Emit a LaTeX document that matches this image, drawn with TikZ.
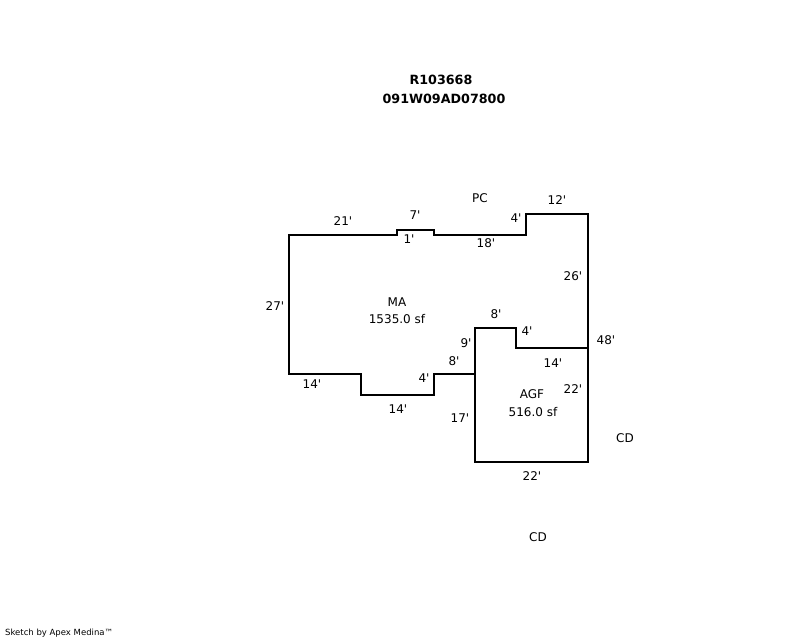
\documentclass[tikz,border=0pt]{standalone}
\usepackage{fontspec}
\defaultfontfeatures[\rmfamily]{}
\setmainfont{DejaVu Sans}
\newcommand{\ft}{\symbol{39}}
\tikzset{
  wall/.style={draw=black,line width=2.5pt,line join=miter},
  lbl/.style={inner sep=0pt,font=\fontsize{12}{14}\selectfont,text=black},
  ttl/.style={inner sep=0pt,font=\fontsize{12.7}{14}\selectfont\bfseries,text=black},
  credit/.style={inner sep=0pt,anchor=west,font=\fontsize{8.5}{10}\selectfont,text=black}
}
\begin{document}
\begin{tikzpicture}[x=1pt,y=-1pt]
\useasboundingbox[fill=white] (0,0) rectangle (800,640);
\draw[wall] (289,235) -- (397,235) -- (397,230) -- (434,230) -- (434,235) -- (526,235) -- (526,214) -- (588,214) -- (588,462) -- (475,462) -- (475,374) -- (434,374) -- (434,395) -- (361,395) -- (361,374) -- (289,374) -- cycle;
\draw[wall] (475,374) -- (475,328) -- (516,328) -- (516,348) -- (588,348);
\node[ttl] (t1) at (441,80) {R103668};
\node[ttl] (t2) at (444,99) {091W09AD07800};
\node[lbl] (a1) at (343,221) {21\ft};
\node[lbl] (a2) at (415,215) {7\ft};
\node[lbl] (a3) at (409,239) {1\ft};
\node[lbl] (a4) at (486,243) {18\ft};
\node[lbl] (a5) at (516,218) {4\ft};
\node[lbl] (a6) at (557,200) {12\ft};
\node[lbl] (pc) at (480,198) {PC};
\node[lbl] (a7) at (573,276) {26\ft};
\node[lbl] (a8) at (275,306) {27\ft};
\node[lbl] (ma) at (397,302) {MA};
\node[lbl] (mas) at (397,319) {1535.0 sf};
\node[lbl] (a9) at (496,314) {8\ft};
\node[lbl] (a10) at (527,331) {4\ft};
\node[lbl] (a11) at (466,343) {9\ft};
\node[lbl] (a12) at (606,340) {48\ft};
\node[lbl] (a13) at (454,361) {8\ft};
\node[lbl] (a14) at (553,363) {14\ft};
\node[lbl] (a15) at (424,378) {4\ft};
\node[lbl] (a16) at (312,384) {14\ft};
\node[lbl] (a17) at (573,389) {22\ft};
\node[lbl] (agf) at (532,394) {AGF};
\node[lbl] (agfs) at (533,412) {516.0 sf};
\node[lbl] (a18) at (398,409) {14\ft};
\node[lbl] (a19) at (460,418) {17\ft};
\node[lbl] (cd1) at (625,438) {CD};
\node[lbl] (a20) at (532,476) {22\ft};
\node[lbl] (cd2) at (538,537) {CD};
\node[credit] (cr) at (5,633) {Sketch by Apex Medina™};
\end{tikzpicture}
\end{document}
